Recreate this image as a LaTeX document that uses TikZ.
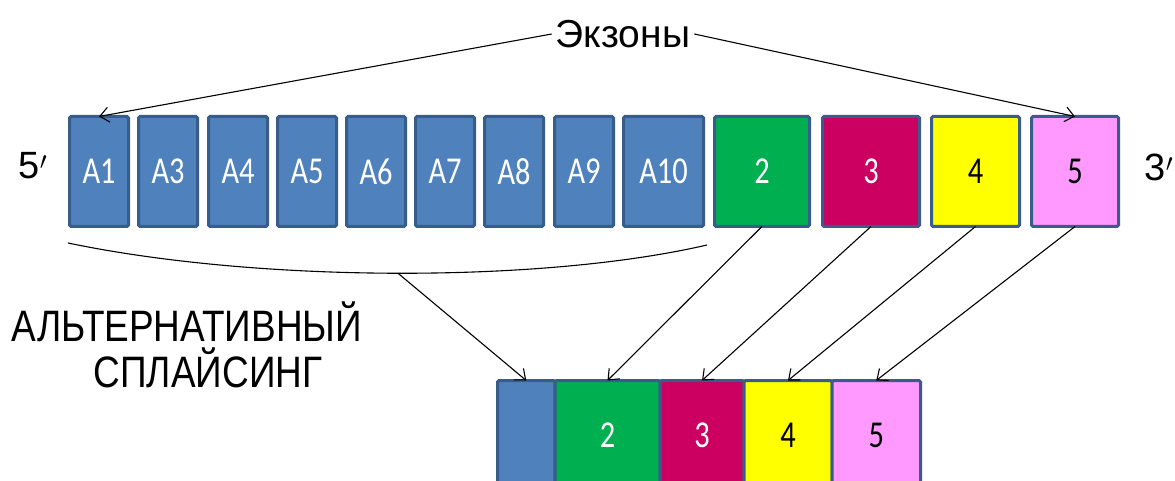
\documentclass[tikz,border=0pt]{standalone}
\usepackage{fontspec}
\setmainfont{Liberation Sans}
\newfontfamily\boxfont[FakeStretch=0.8]{Carlito}
\newfontfamily\handfont[FakeStretch=0.84]{Liberation Sans}
\usetikzlibrary{arrows.meta}
\definecolor{exblue}{HTML}{4F81BD}
\definecolor{exborder}{HTML}{385D8A}
\definecolor{exgreen}{HTML}{00B050}
\definecolor{exred}{HTML}{CC0060}
\definecolor{exyellow}{HTML}{FFFF00}
\definecolor{expink}{HTML}{FF99FF}
\begin{document}
\begin{tikzpicture}
		[x=1pt,y=-1pt,
		exon/.style={rectangle,draw=exborder,line width=3pt,outer sep=0pt,rounded corners=1.5pt,minimum height=110pt,inner sep=0pt,font=\boxfont\fontsize{38}{40}\selectfont},
		link/.style={-{Straight Barb[length=9pt,width=15pt]},line width=1.1pt}]
		\useasboundingbox (0,0) rectangle (1175,481);
		% top row of exons
		\node (A1) [exon,fill=exblue,text=white,minimum width=59pt] at (99,171.5) {A1};
		\node (A3) [exon,fill=exblue,text=white,minimum width=59pt] at (168,171.5) {A3};
		\node (A4) [exon,fill=exblue,text=white,minimum width=59pt] at (238,171.5) {A4};
		\node (A5) [exon,fill=exblue,text=white,minimum width=59pt] at (307,171.5) {A5};
		\node (A6) [exon,fill=exblue,text=white,minimum width=59pt] at (376,171.5) {A6};
		\node (A7) [exon,fill=exblue,text=white,minimum width=59pt] at (445,171.5) {A7};
		\node (A8) [exon,fill=exblue,text=white,minimum width=59pt] at (514,171.5) {A8};
		\node (A9) [exon,fill=exblue,text=white,minimum width=59pt] at (584,171.5) {A9};
		\node (A10) [exon,fill=exblue,text=white,minimum width=80pt] at (663.5,171.5) {A10};
		\node (e2) [exon,fill=exgreen,text=white,minimum width=95pt] at (762,171.5) {2};
		\node (e3) [exon,fill=exred,text=white,minimum width=97pt] at (871,171.5) {3};
		\node (e4) [exon,fill=exyellow,minimum width=88pt] at (975.5,171.5) {4};
		\node (e5) [exon,fill=expink,minimum width=87pt] at (1075,171.5) {5};
		\node (five) [font=\fontsize{38}{40}\selectfont] at (33,166) {5$'$};
		\node (three) [font=\fontsize{38}{40}\selectfont] at (1159,167) {3$'$};
		% bottom row
		\node (b0) [exon,fill=exblue,anchor=north west,minimum width=57.5pt] at (497.5,380.5) {};
		\node (b2) [exon,fill=exgreen,text=white,anchor=west,minimum width=105pt] at (b0.east) {2};
		\node (b3) [exon,fill=exred,text=white,anchor=west,minimum width=84pt] at (b2.east) {3};
		\node (b4) [exon,fill=exyellow,anchor=west,minimum width=88pt] at (b3.east) {4};
		\node (b5) [exon,fill=expink,anchor=west,minimum width=88.5pt] at (b4.east) {5};
		% labels
		\node (exons) [inner sep=4pt,font=\fontsize{39}{40}\selectfont] at (623,34) {Экзоны};
		\node (alt) [align=center,font=\handfont\fontsize{44}{46}\selectfont] at (187,345) {АЛЬТЕРНАТИВНЫЙ\\\hspace*{42pt}СПЛАЙСИНГ};
		\draw[link] (exons.west) -- (A1.north);
		\draw[link] (exons.east) -- (e5.north);
		\coordinate (brL) at (68,243);
		\coordinate (brR) at (707,245);
		\draw[line width=1.1pt] (brL) .. controls (260,283) and (543,283) .. (brR) coordinate[pos=0.5] (brM);
		\draw[link] (brM) -- (b0.north);
		\draw[link] (e2.south) -- (b2.north);
		\draw[link] (e3.south) -- (b3.north);
		\draw[link] (e4.south) -- (b4.north);
		\draw[link] (e5.south) -- (b5.north);
	\end{tikzpicture}
\end{document}
